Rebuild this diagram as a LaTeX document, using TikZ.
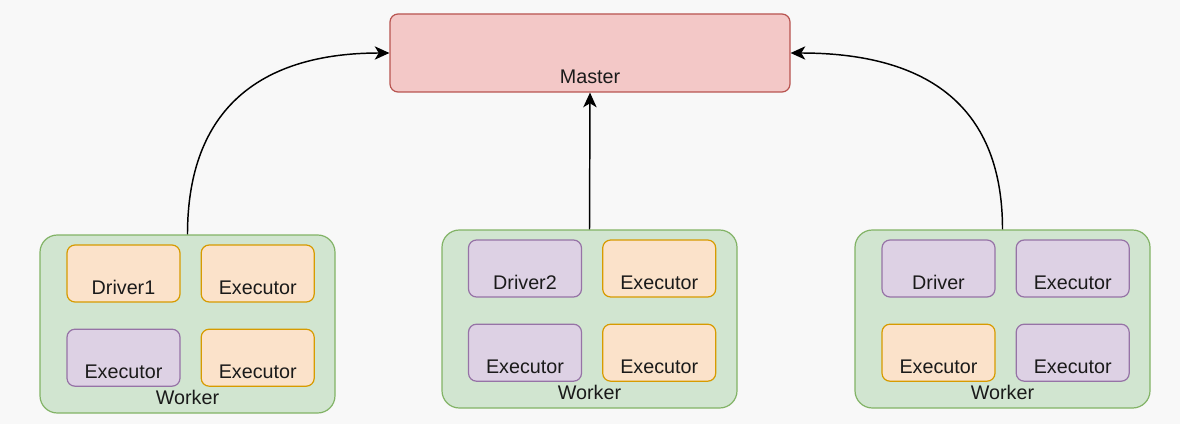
\documentclass[tikz,border=0pt]{standalone}
\usepackage{fontspec}
\setmainfont{Liberation Sans}
\usetikzlibrary{arrows.meta,positioning}

\definecolor{bgcol}{HTML}{F8F8F8}
\definecolor{masterfill}{HTML}{F3C8C7}
\definecolor{masterline}{HTML}{B85450}
\definecolor{workerfill}{HTML}{D1E5D0}
\definecolor{workerline}{HTML}{82B366}
\definecolor{orangefill}{HTML}{FBE2CA}
\definecolor{orangeline}{HTML}{D79B00}
\definecolor{purplefill}{HTML}{DDD1E4}
\definecolor{purpleline}{HTML}{9673A6}
\definecolor{txtcol}{HTML}{1A1A1A}

\begin{document}
\begin{tikzpicture}[x=0.75pt,y=-0.75pt,
  font=\fontsize{14.8pt}{17pt}\selectfont,text=txtcol,
  node distance=15pt and 19.5pt,
  master/.style={draw=masterline,fill=masterfill,line width=0.9pt,rounded corners=6pt,
    inner sep=0pt,minimum width=300pt,text height=52.5pt,text depth=6pt},
  worker/.style={draw=workerline,fill=workerfill,line width=0.9pt,rounded corners=13pt,
    inner sep=0pt,minimum width=221.25pt,text height=126.75pt,text depth=6.75pt},
  task/.style={line width=0.9pt,rounded corners=6pt,inner sep=0pt,
    minimum width=84.75pt,text height=36.75pt,text depth=6pt},
  orangebox/.style={task,draw=orangeline,fill=orangefill},
  purplebox/.style={task,draw=purpleline,fill=purplefill},
  link/.style={-{Stealth[length=11pt,width=10pt,inset=3pt]},line width=1.1pt,black}]

\fill[bgcol] (0,0) rectangle (1180,424);

\node[master] (master) at (590,53) {Master};

% workers
\node[worker] (w1) at (187.5,324) {Worker};
\node[worker] (w2) at (589.5,319) {Worker};
\node[worker] (w3) at (1002.5,319) {Worker};

% first worker
\node[orangebox] (w1a) at (123.5,273.5) {Driver1};
\node[orangebox,right=15pt of w1a] (w1b) {Executor};
\node[purplebox,below=19.5pt of w1a] (w1c) {Executor};
\node[orangebox,below=19.5pt of w1b] (w1d) {Executor};

% second worker
\node[purplebox] (w2a) at (525,268.5) {Driver2};
\node[orangebox,right=15pt of w2a] (w2b) {Executor};
\node[purplebox,below=19.5pt of w2a] (w2c) {Executor};
\node[orangebox,below=19.5pt of w2b] (w2d) {Executor};

% third worker
\node[purplebox] (w3a) at (938.5,268.5) {Driver};
\node[purplebox,right=15pt of w3a] (w3b) {Executor};
\node[orangebox,below=19.5pt of w3a] (w3c) {Executor};
\node[purplebox,below=19.5pt of w3b] (w3d) {Executor};

\draw[link] (w1.north) to[out=90,in=180,looseness=1.2] (master.west);
\draw[link] (w2.north) -- (master.south);
\draw[link] (w3.north) to[out=90,in=0,looseness=1.2] (master.east);
\end{tikzpicture}
\end{document}
